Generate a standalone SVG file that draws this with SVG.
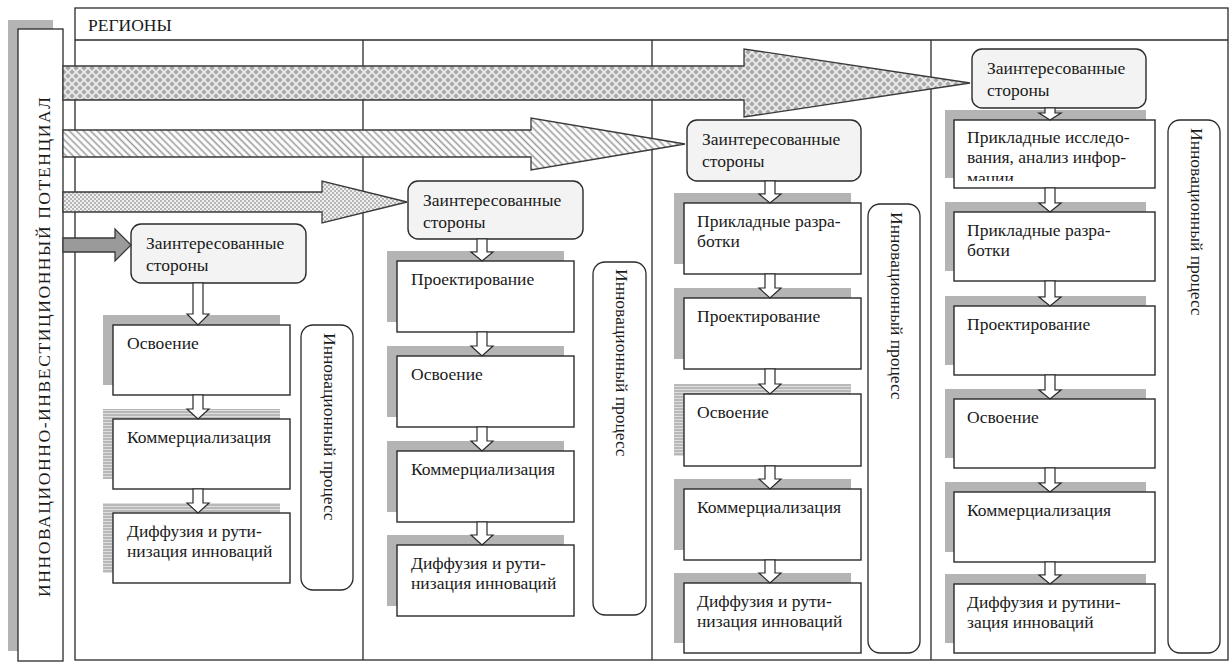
<svg xmlns="http://www.w3.org/2000/svg" width="1232" height="662" viewBox="0 0 1232 662" font-family="'Liberation Serif', 'DejaVu Serif', serif">
<style>
text{font-family:'Liberation Serif','DejaVu Serif',serif;font-size:17.5px;fill:#1a1a1a}
.frame{fill:#fff;stroke:#2a2a2a;stroke-width:1.3}
.line{stroke:#2a2a2a;stroke-width:1.3;fill:none}
.sh{fill:#b4b4b4}
.shs{fill:url(#hlines)}
.box{fill:#fff;stroke:#2a2a2a;stroke-width:1.4}
.stake{fill:#f3f3f3;stroke:#2a2a2a;stroke-width:1.4}
.proc{fill:#fff;stroke:#2a2a2a;stroke-width:1.3}
.harr{fill:#fff;stroke:#2a2a2a;stroke-width:1.2;stroke-linejoin:miter}
.big{stroke:#3a3a3a;stroke-width:1.3;stroke-linejoin:miter}
</style>
<defs>
<pattern id="diam" patternUnits="userSpaceOnUse" width="8" height="8">
<rect width="8" height="8" fill="#ececec"/>
<path d="M4,1.2 L6.8,4 L4,6.8 L1.2,4 Z M0,-2.8 L2.8,0 L0,2.8 L-2.8,0 Z M8,-2.8 L10.8,0 L8,2.8 L5.2,0 Z M0,5.2 L2.8,8 L0,10.8 L-2.8,8 Z M8,5.2 L10.8,8 L8,10.8 L5.2,8 Z" fill="#a9a9a9"/>
</pattern>
<pattern id="diag" patternUnits="userSpaceOnUse" width="5" height="5" patternTransform="rotate(-45)">
<rect width="5" height="5" fill="#fff"/>
<line x1="1.5" y1="0" x2="1.5" y2="5" stroke="#9a9a9a" stroke-width="1.6"/>
</pattern>
<pattern id="dots" patternUnits="userSpaceOnUse" width="4" height="4">
<rect width="4" height="4" fill="#efefef"/>
<circle cx="1" cy="1" r="0.9" fill="#9c9c9c"/>
<circle cx="3" cy="3" r="0.9" fill="#9c9c9c"/>
</pattern>
<pattern id="hlines" patternUnits="userSpaceOnUse" width="6" height="3">
<rect width="6" height="3" fill="#b8b8b8"/>
<rect y="2" width="6" height="1" fill="#dedede"/>
</pattern>
<clipPath id="clip4"><rect x="955" y="121" width="199" height="60"/></clipPath>
</defs>

<g id="potential">
<rect x="8" y="20" width="45" height="631" fill="#b4b4b4"/>
<rect class="frame" x="18" y="29" width="45" height="632"/>
<text transform="translate(49.5,347) rotate(-90)" text-anchor="middle" font-size="20" textLength="500" lengthAdjust="spacing">ИННОВАЦИОННО-ИНВЕСТИЦИОННЫЙ ПОТЕНЦИАЛ</text>
</g>

<g id="regions">
<rect class="frame" x="75" y="8" width="1153" height="652"/>
<line class="line" x1="75" y1="40" x2="1228" y2="40"/>
<line class="line" x1="363" y1="40" x2="363" y2="660"/>
<line class="line" x1="652" y1="40" x2="652" y2="660"/>
<line class="line" x1="931" y1="40" x2="931" y2="660"/>
<text x="88" y="31" font-size="17">РЕГИОНЫ</text>
</g>

<!-- Column 1 -->
<g id="c1-stake"><rect class="stake" x="131" y="224" width="175" height="59" rx="10"/><text x="146" y="249">Заинтересованные</text><text x="146" y="271">стороны</text></g>
<g id="c1-b1"><rect class="sh" x="103" y="315" width="177" height="70"/><rect class="box" x="113" y="325" width="177" height="70"/><text x="127" y="349">Освоение</text></g>
<g id="c1-b2"><rect class="shs" x="103" y="409" width="177" height="70"/><rect class="box" x="113" y="419" width="177" height="70"/><text x="127" y="443">Коммерциализация</text></g>
<g id="c1-b3"><rect class="shs" x="103" y="503" width="177" height="70"/><rect class="box" x="113" y="513" width="177" height="70"/><text x="127" y="537">Диффузия и рути-</text><text x="127" y="557">низация инноваций</text></g>
<g id="c1-proc"><rect class="proc" x="301" y="325" width="52" height="265" rx="12"/><text transform="translate(323.5,333) rotate(90)">Инновационный процесс</text></g>

<!-- Column 2 -->
<g id="c2-stake"><rect class="stake" x="408" y="181" width="175" height="58" rx="10"/><text x="423" y="206">Заинтересованные</text><text x="423" y="228">стороны</text></g>
<g id="c2-b1"><rect class="sh" x="387" y="251" width="177" height="71"/><rect class="box" x="397" y="261" width="177" height="71"/><text x="411" y="285">Проектирование</text></g>
<g id="c2-b2"><rect class="sh" x="387" y="346" width="177" height="71"/><rect class="box" x="397" y="356" width="177" height="71"/><text x="411" y="380">Освоение</text></g>
<g id="c2-b3"><rect class="sh" x="387" y="441" width="177" height="71"/><rect class="box" x="397" y="451" width="177" height="71"/><text x="411" y="475">Коммерциализация</text></g>
<g id="c2-b4"><rect class="sh" x="387" y="535" width="177" height="71"/><rect class="box" x="397" y="545" width="177" height="71"/><text x="411" y="569">Диффузия и рути-</text><text x="411" y="589">низация инноваций</text></g>
<g id="c2-proc"><rect class="proc" x="593" y="262" width="53" height="353" rx="12"/><text transform="translate(616,269) rotate(90)">Инновационный процесс</text></g>

<!-- Column 3 -->
<g id="c3-stake"><rect class="stake" x="687" y="120" width="174" height="61" rx="10"/><text x="702" y="145">Заинтересованные</text><text x="702" y="167">стороны</text></g>
<g id="c3-b1"><rect class="sh" x="674" y="193" width="177" height="71"/><rect class="box" x="684" y="203" width="177" height="71"/><text x="697" y="227">Прикладные разра-</text><text x="697" y="247">ботки</text></g>
<g id="c3-b2"><rect class="sh" x="674" y="288" width="177" height="71"/><rect class="box" x="684" y="298" width="177" height="71"/><text x="697" y="322">Проектирование</text></g>
<g id="c3-b3"><rect class="shs" x="674" y="384" width="177" height="72"/><rect class="box" x="684" y="394" width="177" height="72"/><text x="697" y="418">Освоение</text></g>
<g id="c3-b4"><rect class="sh" x="674" y="479" width="177" height="71"/><rect class="box" x="684" y="489" width="177" height="71"/><text x="697" y="513">Коммерциализация</text></g>
<g id="c3-b5"><rect class="sh" x="674" y="573" width="177" height="70"/><rect class="box" x="684" y="583" width="177" height="70"/><text x="697" y="607">Диффузия и рути-</text><text x="697" y="627">низация инноваций</text></g>
<g id="c3-proc"><rect class="proc" x="868" y="204" width="52" height="449" rx="12"/><text transform="translate(890.5,212) rotate(90)">Инновационный процесс</text></g>

<!-- Column 4 -->
<g id="c4-stake"><rect class="stake" x="972" y="49" width="174" height="59" rx="10"/><text x="987" y="74">Заинтересованные</text><text x="987" y="96">стороны</text></g>
<g id="c4-b1"><rect class="sh" x="945" y="110" width="201" height="68"/><rect class="box" x="954" y="120" width="201" height="68"/><g clip-path="url(#clip4)"><text x="967" y="143">Прикладные исследо-</text><text x="967" y="163">вания, анализ инфор-</text><text x="967" y="184">мации</text></g></g>
<g id="c4-b2"><rect class="sh" x="945" y="202" width="201" height="69"/><rect class="box" x="954" y="212" width="201" height="69"/><text x="967" y="236">Прикладные разра-</text><text x="967" y="256">ботки</text></g>
<g id="c4-b3"><rect class="sh" x="945" y="296" width="201" height="69"/><rect class="box" x="954" y="306" width="201" height="69"/><text x="967" y="330">Проектирование</text></g>
<g id="c4-b4"><rect class="sh" x="945" y="389" width="201" height="69"/><rect class="box" x="954" y="399" width="201" height="69"/><text x="967" y="423">Освоение</text></g>
<g id="c4-b5"><rect class="sh" x="945" y="482" width="201" height="70"/><rect class="box" x="954" y="492" width="201" height="70"/><text x="967" y="516">Коммерциализация</text></g>
<g id="c4-b6"><rect class="sh" x="945" y="574" width="201" height="69"/><rect class="box" x="954" y="584" width="201" height="69"/><text x="967" y="608">Диффузия и рутини-</text><text x="967" y="628">зация инноваций</text></g>
<g id="c4-proc"><rect class="proc" x="1168" y="120" width="52" height="533" rx="12"/><text transform="translate(1190.5,128) rotate(90)">Инновационный процесс</text></g>

<g id="connectors">
<path class="big" fill="url(#diam)" d="M63,66 H744 V49 L970,83 L744,117 V100 H63 Z"/>
<path class="big" fill="url(#diag)" d="M63,130 H531 V118 L685,144 L531,170 V157 H63 Z"/>
<path class="big" fill="url(#dots)" d="M63,192 H322 V181 L407,202 L322,223 V212 H63 Z"/>
<path class="big" fill="#9a9a9a" stroke="#555" d="M63,238 H115 V229 L131,245 L115,261 V252 H63 Z"/>
<path class="harr" d="M193,283 H203 V314 H209 L198,325 L187,314 H193 Z"/>
<path class="harr" d="M193,395 H203 V409 H209 L198,419 L187,409 H193 Z"/>
<path class="harr" d="M193,489 H203 V503 H209 L198,513 L187,503 H193 Z"/>
<path class="harr" d="M477,239 H487 V252 H493 L482,261 L471,252 H477 Z"/>
<path class="harr" d="M477,332 H487 V346 H493 L482,356 L471,346 H477 Z"/>
<path class="harr" d="M477,427 H487 V441 H493 L482,451 L471,441 H477 Z"/>
<path class="harr" d="M477,522 H487 V535 H493 L482,545 L471,535 H477 Z"/>
<path class="harr" d="M765,181 H775 V194 H781 L770,203 L759,194 H765 Z"/>
<path class="harr" d="M765,274 H775 V288 H781 L770,298 L759,288 H765 Z"/>
<path class="harr" d="M765,369 H775 V384 H781 L770,394 L759,384 H765 Z"/>
<path class="harr" d="M765,466 H775 V479 H781 L770,489 L759,479 H765 Z"/>
<path class="harr" d="M765,560 H775 V573 H781 L770,583 L759,573 H765 Z"/>
<path class="harr" d="M1045,108 H1055 V113 H1061 L1050,120 L1039,113 H1045 Z"/>
<path class="harr" d="M1045,188 H1055 V203 H1061 L1050,212 L1039,203 H1045 Z"/>
<path class="harr" d="M1045,281 H1055 V297 H1061 L1050,306 L1039,297 H1045 Z"/>
<path class="harr" d="M1045,375 H1055 V390 H1061 L1050,399 L1039,390 H1045 Z"/>
<path class="harr" d="M1045,468 H1055 V483 H1061 L1050,492 L1039,483 H1045 Z"/>
<path class="harr" d="M1045,562 H1055 V575 H1061 L1050,584 L1039,575 H1045 Z"/>
</g>
</svg>
